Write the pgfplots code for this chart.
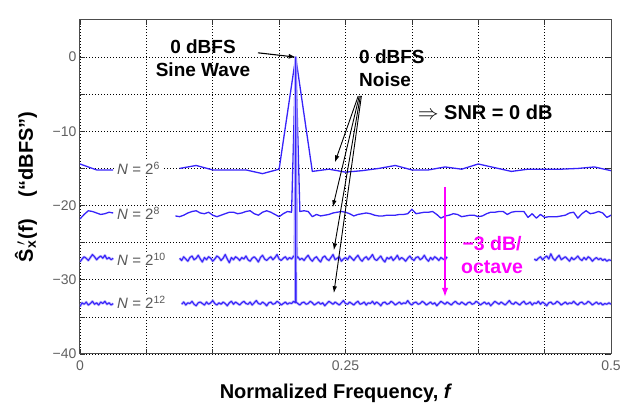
\documentclass[border=0pt]{standalone}
\usepackage{pgfplots}
\pgfplotsset{compat=1.18}
\usepackage{pgfplotstable}
\usepackage{fontspec}
\setmainfont{Liberation Sans}
\usetikzlibrary{arrows.meta}

\definecolor{serblue}{RGB}{55,35,250}
\definecolor{annmag}{RGB}{255,0,255}

% N = 2^6, bin index k, f = k/64
\pgfplotstableread[row sep=\\]{
k y\\
0 -14.4\\ 1 -15.2\\ 2 -15.2\\ 3 nan\\
6 -15.0\\ 7 -14.6\\ 8 -15.2\\ 9 -15.2\\ 10 -15.2\\ 11 -15.7\\ 12 -15.1\\ 13 0\\ 14 -15.4\\
15 -15.1\\ 16 -15.5\\ 17 -15.3\\ 18 -15.0\\ 19 -14.6\\ 20 -15.2\\ 21 -15.2\\ 22 -14.8\\
23 -15.1\\ 24 -14.4\\ 25 -14.9\\ 26 -15.4\\ 27 -15.1\\ 28 -15.1\\ 29 -15.1\\ 30 -15.0\\
31 -14.8\\ 32 -15.3\\
}\tabsix

% N = 2^8, f = k/256
\pgfplotstableread[row sep=\\]{
k y\\
0 -21.8\\ 1 -21.2\\ 2 -20.7\\ 3 -20.8\\ 4 -21.0\\ 5 -21.2\\ 6 -21.1\\ 7 -20.9\\ 8 -21.0\\ 9 nan\\
23 -21.4\\ 24 -21.5\\ 25 -21.3\\ 26 -21.0\\ 27 -20.8\\ 28 -20.7\\ 29 -21.0\\ 30 -21.1\\
31 -20.9\\ 32 -21.3\\ 33 -21.5\\ 34 -21.3\\ 35 -21.1\\ 36 -20.9\\ 37 -20.9\\ 38 -21.1\\
39 -21.0\\ 40 -20.8\\ 41 -20.7\\ 42 -21.1\\ 43 -21.3\\ 44 -20.9\\ 45 -20.7\\ 46 -20.9\\
47 -21.2\\ 48 -21.5\\ 49 -21.1\\ 50 -20.8\\ 51 -20.9\\ 52 0\\ 53 -20.8\\ 54 -20.7\\
55 -20.8\\ 56 -21.5\\ 57 -21.2\\ 58 -21.4\\ 59 -21.3\\ 60 -21.2\\ 61 -21.0\\ 62 -20.9\\
63 -20.8\\ 64 -20.9\\ 65 -21.1\\ 66 -21.4\\ 67 -21.2\\ 68 -21.1\\ 69 -21.0\\ 70 -21.1\\
71 -21.3\\ 72 -21.4\\ 73 -21.4\\ 74 -21.3\\ 75 -21.3\\ 76 -21.3\\ 77 -21.2\\ 78 -21.2\\
79 -21.1\\ 80 -20.5\\ 81 -21.1\\ 82 -21.0\\ 83 -20.9\\ 84 -20.9\\ 85 -20.8\\ 86 -21.2\\
87 -21.7\\ 88 -21.4\\ 89 -21.3\\ 90 -21.1\\ 91 -21.2\\ 92 -21.5\\ 93 -21.4\\ 94 -21.3\\
95 -21.3\\ 96 -21.5\\ 97 -21.4\\ 98 -21.1\\ 99 -20.9\\ 100 -20.9\\ 101 -20.8\\ 102 -20.8\\
103 -21.2\\ 104 -20.9\\ 105 -20.8\\ 106 -20.8\\ 107 -20.8\\ 108 -21.6\\ 109 -21.1\\ 110 -21.7\\
111 -21.2\\ 112 -21.6\\ 113 -21.5\\ 114 -21.5\\ 115 -21.5\\ 116 -21.4\\ 117 -21.3\\ 118 -21.0\\
119 -20.9\\ 120 -21.7\\ 121 -21.1\\ 122 -20.7\\ 123 -21.1\\ 124 -21.0\\ 125 -20.8\\ 126 -21.0\\
127 -21.6\\ 128 -21.3\\
}\tabeight

% N = 2^10, every other bin, f = k/512
\pgfplotstableread[row sep=\\]{
k y\\
0 -27.6\\ 1 -27.2\\ 2 -26.9\\ 3 -27.1\\ 4 -27.4\\ 5 -27.0\\ 6 -26.6\\ 7 -26.9\\ 8 -27.3\\
9 -27.0\\ 10 -26.8\\ 11 -27.1\\ 12 -26.7\\ 13 -27.2\\ 14 -27.0\\ 15 -27.3\\ 16 -27.1\\ 17 nan\\
48 -27.1\\ 49 -27.4\\ 50 -26.9\\ 51 -27.2\\ 52 -27.5\\ 53 -27.0\\ 54 -26.8\\ 55 -27.3\\ 56 -27.1\\ 57 -26.7\\
58 -27.2\\ 59 -27.6\\ 60 -27.0\\ 61 -27.3\\ 62 -26.9\\ 63 -27.1\\ 64 -27.5\\ 65 -27.2\\ 66 -26.8\\ 67 -27.0\\
68 -27.4\\ 69 -27.1\\ 70 -26.6\\ 71 -27.2\\ 72 -27.7\\ 73 -27.0\\ 74 -27.3\\ 75 -26.9\\ 76 -27.1\\ 77 -27.4\\
78 -27.0\\ 79 -27.2\\ 80 -26.8\\ 81 -27.3\\ 82 -27.5\\ 83 -27.1\\ 84 -26.9\\ 85 -27.2\\ 86 -27.6\\ 87 -27.0\\
88 -26.7\\ 89 -27.2\\ 90 -27.4\\ 91 -27.1\\ 92 -26.9\\ 93 -27.3\\ 94 -27.0\\ 95 -26.6\\ 96 -27.2\\ 97 -27.4\\
98 -27.1\\ 99 -26.9\\ 100 -27.3\\ 101 -27.0\\ 102 -27.2\\ 103 -26.8\\ 103.5 -27.0\\ 104 0\\ 104.5 -27.1\\ 105 -26.9\\ 106 -27.3\\ 107 -27.1\\
108 -27.4\\ 109 -27.0\\ 110 -26.7\\ 111 -27.2\\ 112 -27.5\\ 113 -27.1\\ 114 -26.9\\ 115 -27.3\\ 116 -27.6\\ 117 -27.0\\
118 -26.8\\ 119 -27.2\\ 120 -27.4\\ 121 -27.0\\ 122 -26.6\\ 123 -27.3\\ 124 -27.1\\ 125 -26.9\\ 126 -27.5\\ 127 -27.2\\
128 -27.0\\ 129 -27.3\\ 130 -26.8\\ 131 -27.1\\ 132 -27.4\\ 133 -27.0\\ 134 -26.7\\ 135 -27.2\\ 136 -27.5\\ 137 -27.1\\
138 -26.9\\ 139 -27.3\\ 140 -27.0\\ 141 -26.6\\ 142 -27.2\\ 143 -27.4\\ 144 -27.1\\ 145 -26.8\\ 146 -27.3\\ 147 -27.6\\
148 -27.0\\ 149 -27.2\\ 150 -26.9\\ 151 -27.4\\ 152 -27.1\\ 153 -26.7\\ 154 -27.3\\ 155 -27.0\\ 156 -27.2\\ 157 -27.5\\
158 -27.1\\ 159 -26.8\\ 160 -27.2\\ 161 -27.4\\ 162 -27.0\\ 163 -26.9\\ 164 -27.3\\ 165 -27.1\\ 166 -26.7\\ 167 -27.2\\
168 -27.5\\ 169 -27.0\\ 170 -27.3\\ 171 -26.9\\ 172 -27.1\\ 173 -27.4\\ 174 -27.0\\ 175 -27.2\\ 176 -27.3\\ 177 -26.9\\ 178 nan\\
219 -27.2\\ 220 -27.4\\ 221 -27.1\\ 222 -26.9\\ 223 -27.3\\ 224 -27.0\\ 225 -26.8\\ 226 -27.2\\ 227 -26.5\\ 228 -27.1\\
229 -27.4\\ 230 -27.0\\ 231 -26.7\\ 232 -27.3\\ 233 -27.1\\ 234 -26.9\\ 235 -27.2\\ 236 -27.5\\ 237 -27.0\\ 238 -27.3\\
239 -27.1\\ 240 -26.8\\ 241 -27.2\\ 242 -27.4\\ 243 -27.0\\ 244 -27.3\\ 245 -26.9\\ 246 -27.1\\ 247 -27.5\\ 248 -27.2\\
249 -27.0\\ 250 -27.3\\ 251 -27.1\\ 252 -27.4\\ 253 -27.2\\ 254 -27.5\\ 255 -27.3\\ 256 -27.4\\
}\tabten

% N = 2^12, every eighth bin, f = k/512
\pgfplotstableread[row sep=\\]{
k y\\
0 -33.6\\ 1 -33.1\\ 2 -33.3\\ 3 -33.0\\ 4 -33.4\\ 5 -33.2\\ 6 -32.9\\ 7 -33.3\\ 8 -33.1\\
9 -33.4\\ 10 -33.0\\ 11 -33.2\\ 12 -32.9\\ 13 -33.3\\ 14 -33.1\\ 15 -33.4\\ 16 -33.2\\ 17 nan\\
49 -33.3\\ 50 -33.0\\ 51 -33.4\\ 52 -33.1\\ 53 -33.2\\ 54 -32.9\\ 55 -33.3\\ 56 -33.5\\ 57 -33.1\\ 58 -33.0\\
59 -33.2\\ 60 -33.4\\ 61 -33.0\\ 62 -33.3\\ 63 -33.1\\ 64 -32.8\\ 65 -33.2\\ 66 -33.4\\ 67 -33.1\\ 68 -33.3\\
69 -33.0\\ 70 -33.2\\ 71 -33.5\\ 72 -33.1\\ 73 -32.9\\ 74 -33.3\\ 75 -33.0\\ 76 -33.2\\ 77 -33.4\\ 78 -33.1\\
79 -32.9\\ 80 -33.2\\ 81 -33.3\\ 82 -33.0\\ 83 -33.4\\ 84 -33.1\\ 85 -32.8\\ 86 -33.2\\ 87 -33.3\\ 88 -33.0\\
89 -33.2\\ 90 -33.5\\ 91 -33.1\\ 92 -33.0\\ 93 -33.3\\ 94 -33.2\\ 95 -32.9\\ 96 -33.1\\ 97 -33.4\\ 98 -33.2\\
99 -33.0\\ 100 -33.3\\ 101 -33.1\\ 102 -33.2\\ 103 -32.9\\ 103.875 -33.1\\ 104 0\\ 104.125 -33.0\\ 105 -33.2\\ 106 -33.4\\ 107 -33.1\\ 108 -33.0\\
109 -33.3\\ 110 -33.2\\ 111 -32.9\\ 112 -33.1\\ 113 -33.4\\ 114 -33.2\\ 115 -33.0\\ 116 -33.3\\ 117 -33.1\\ 118 -33.5\\
119 -33.2\\ 120 -32.9\\ 121 -33.1\\ 122 -33.3\\ 123 -33.0\\ 124 -33.2\\ 125 -33.4\\ 126 -33.1\\ 127 -32.8\\ 128 -33.2\\
129 -33.3\\ 130 -33.0\\ 131 -33.2\\ 132 -33.4\\ 133 -33.1\\ 134 -32.9\\ 135 -33.3\\ 136 -33.2\\ 137 -33.0\\ 138 -33.4\\
139 -33.1\\ 140 -33.2\\ 141 -32.9\\ 142 -33.3\\ 143 -33.0\\ 144 -33.2\\ 145 -33.5\\ 146 -33.1\\ 147 -33.0\\ 148 -33.3\\
149 -33.2\\ 150 -32.9\\ 151 -33.1\\ 152 -33.4\\ 153 -33.2\\ 154 -33.0\\ 155 -33.3\\ 156 -33.1\\ 157 -33.2\\ 158 -32.8\\
159 -33.2\\ 160 -33.4\\ 161 -33.1\\ 162 -33.0\\ 163 -33.3\\ 164 -33.2\\ 165 -32.9\\ 166 -33.1\\ 167 -33.4\\ 168 -33.2\\
169 -33.0\\ 170 -33.3\\ 171 -33.1\\ 172 -33.5\\ 173 -33.2\\ 174 -32.9\\ 175 -33.1\\ 176 -33.3\\ 177 -33.0\\ 178 -33.2\\
179 -33.4\\ 180 -33.1\\ 181 -32.9\\ 182 -33.2\\ 183 -33.3\\ 184 -33.0\\ 185 -33.2\\ 186 -33.4\\ 187 -33.1\\ 188 -33.0\\
189 -33.3\\ 190 -33.2\\ 191 -32.9\\ 192 -33.1\\ 193 -33.4\\ 194 -33.2\\ 195 -33.0\\ 196 -33.3\\ 197 -33.1\\ 198 -33.5\\
199 -33.2\\ 200 -32.9\\ 201 -33.1\\ 202 -33.3\\ 203 -33.0\\ 204 -33.2\\ 205 -33.4\\ 206 -33.1\\ 207 -32.8\\ 208 -33.2\\
209 -33.3\\ 210 -33.0\\ 211 -33.2\\ 212 -33.4\\ 213 -33.1\\ 214 -32.9\\ 215 -33.3\\ 216 -33.2\\ 217 -33.0\\ 218 -33.4\\
219 -33.1\\ 220 -33.2\\ 221 -32.9\\ 222 -33.3\\ 223 -33.0\\ 224 -33.2\\ 225 -33.5\\ 226 -33.1\\ 227 -33.0\\ 228 -33.3\\
229 -33.2\\ 230 -32.9\\ 231 -33.1\\ 232 -33.4\\ 233 -33.2\\ 234 -33.0\\ 235 -33.3\\ 236 -33.1\\ 237 -33.2\\ 238 -32.9\\
239 -33.2\\ 240 -33.4\\ 241 -33.1\\ 242 -33.0\\ 243 -33.3\\ 244 -33.2\\ 245 -32.9\\ 246 -33.1\\ 247 -33.4\\ 248 -33.2\\
249 -33.0\\ 250 -33.3\\ 251 -33.1\\ 252 -33.4\\ 253 -33.2\\ 254 -33.3\\ 255 -33.1\\ 256 -33.3\\
}\tabtwelve

\newcommand\annfont{\bfseries\fontsize{19}{23}\selectfont}

\begin{document}
\begin{tikzpicture}
\begin{axis}[
    name=ax,
    scale only axis,
    width=531pt, height=334pt,
    xmin=0, xmax=0.5, ymin=-40, ymax=5,
    xtick={0,0.0625,0.125,0.1875,0.25,0.3125,0.375,0.4375,0.5},
    xticklabels={0,,,,0.25,,,,0.5},
    ytick={-40,-35,-30,-25,-20,-15,-10,-5,0},
    yticklabels={−40,,−30,,−20,,−10,,0},
    grid=major,
    major grid style={black, line width=0.6pt, dash pattern=on 1pt off 2pt},
    tick align=inside,
    major tick length=5pt,
    every tick/.style={gray!40!black, line width=0.6pt},
    axis line style={gray!60!black, line width=1pt},
    ticklabel style={font=\fontsize{14}{16}\selectfont, text=gray!75!black},
    xticklabel style={yshift=-3pt},
    unbounded coords=jump,
    sp/.style={serblue, line width=1.3pt, mark=none, line join=round},
    halo/.style={serblue!30, line width=2.6pt, mark=none, line join=round},
    core/.style={serblue, line width=1.1pt, mark=none, line join=round},
]
\addplot[sp] table[x expr=\thisrow{k}/64, y=y] {\tabsix};
\addplot[sp] table[x expr=\thisrow{k}/256, y=y] {\tabeight};
\addplot[halo] table[x expr=\thisrow{k}/512, y=y] {\tabten};
\addplot[core] table[x expr=\thisrow{k}/512, y=y] {\tabten};
\addplot[halo] table[x expr=\thisrow{k}/512, y=y] {\tabtwelve};
\addplot[core] table[x expr=\thisrow{k}/512, y=y] {\tabtwelve};

% series labels
\begin{scope}[every node/.style={anchor=west, text=gray!70!black, fill=white, font=\fontsize{15}{17}\selectfont, inner xsep=2pt, inner ysep=1pt}]
\node at (axis cs:0.0330,-15.0) {\textit{N} = 2\textsuperscript{6}};
\node at (axis cs:0.0330,-21.1) {\textit{N} = 2\textsuperscript{8}};
\node at (axis cs:0.0330,-27.2) {\textit{N} = 2\textsuperscript{10}};
\node at (axis cs:0.0330,-33.0) {\textit{N} = 2\textsuperscript{12}};
\end{scope}

% sine annotation
\node[align=center, font=\annfont, inner sep=0pt] at (axis cs:0.1158,-0.1) {0 dBFS\\Sine Wave};
\draw[black, line width=1.1pt, -{Latex[length=7pt,width=5pt]}] (axis cs:0.1676,0.58) -- (axis cs:0.2031,0);

% noise annotation
\node[align=left, anchor=west, font=\annfont, inner sep=0pt] at (axis cs:0.2627,-1.5) {0 dBFS\\Noise};
\begin{scope}[black, line width=0.9pt, -{Latex[length=7pt,width=4.5pt]}]
\draw (axis cs:0.262,-5.23) -- (axis cs:0.240,-14.19);
\draw (axis cs:0.263,-5.23) -- (axis cs:0.238,-20.23);
\draw (axis cs:0.264,-5.23) -- (axis cs:0.239,-26.04);
\draw (axis cs:0.265,-5.23) -- (axis cs:0.239,-31.81);
\end{scope}
\node[anchor=west, font=\bfseries\fontsize{20}{24}\selectfont, inner sep=0pt] at (axis cs:0.318,-7.48) {$\Rightarrow$ SNR = 0 dB};

% slope annotation
\draw[annmag, line width=1.4pt, -{Latex[length=9pt,width=6.5pt]}] (axis cs:0.3437,-17.5) -- (axis cs:0.3437,-32.3);
\node[annmag, align=center, font=\bfseries\fontsize{19.5}{23}\selectfont, inner sep=0pt] at (axis cs:0.388,-26.6) {−3 dB/\\octave};
\end{axis}

% axis titles
\node[rotate=90, font=\bfseries\fontsize{20}{24}\selectfont] at ([xshift=-54pt]ax.west)
  {Ŝ\textsubscript{x}\kern-0.25em\textsuperscript{$\prime$}\kern0.1em(f)\hspace{22pt}(“dBFS”)};
\node[anchor=base, font=\bfseries\fontsize{20}{24}\selectfont] at ([xshift=-9.5pt,yshift=-44pt]ax.south)
  {Normalized Frequency, \textit{f}};

\pgfresetboundingbox
\path ([shift={(-80pt,-53pt)}]ax.south west) rectangle ([shift={(26pt,20pt)}]ax.north east);
\end{tikzpicture}
\end{document}
